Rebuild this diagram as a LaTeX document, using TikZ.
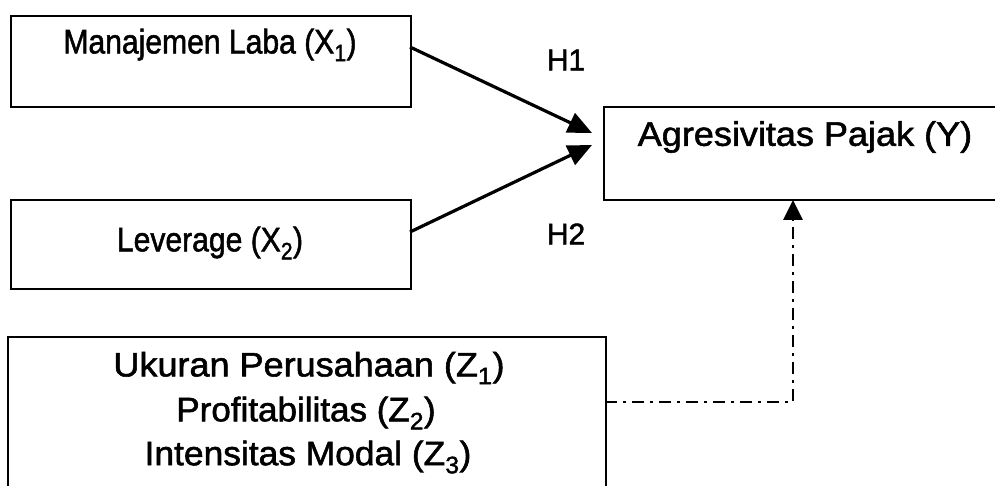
\documentclass[tikz,border=0pt]{standalone}
\usepackage{fontspec}
\setmainfont{Liberation Sans}
\newfontfamily\thickfont{Liberation Sans}[FakeBold=1.6]
\usetikzlibrary{arrows.meta}
\begin{document}
\begin{tikzpicture}[x=1pt,y=-1pt,
  box/.style={draw=black, line width=2pt, rectangle, inner sep=0pt, anchor=north west},
  lbl/.style={inner sep=0pt, font=\thickfont\fontsize{34}{40}\selectfont},
  hyp/.style={inner sep=0pt, font=\thickfont\fontsize{30}{34}\selectfont},
  arr/.style={line width=3.2pt, -{Triangle[length=24pt,width=21pt]}},
  dd/.style={line width=2.8pt, dash pattern=on 12pt off 6pt on 3pt off 6pt, -{Triangle[length=20pt,width=19pt]}}
]
\useasboundingbox (0,0) rectangle (995,486);
\node[box, minimum width=400pt, minimum height=91pt] (b1) at (10,15) {};
\node[box, minimum width=400pt, minimum height=89pt] (b2) at (10,199) {};
\node[box, minimum width=400pt, minimum height=93pt] (by) at (603,106) {};
\node[box, minimum width=598pt, minimum height=170pt] (bz) at (7,336) {};

\node[lbl] (t1) at (210,45) {\scalebox{0.885}[1]{Manajemen Laba (X\textsubscript{1})}};
\node[lbl] (t2) at (210,243) {\scalebox{0.885}[1]{Leverage (X\textsubscript{2})}};
\node[lbl] (ty) at (805,137) {\scalebox{1.06}[1]{Agresivitas Pajak (Y)}};
\node[lbl] (z1) at (309,368) {\scalebox{1.06}[1]{Ukuran Perusahaan (Z\textsubscript{1})}};
\node[lbl] (z2) at (306,413) {\scalebox{1.03}[1]{Profitabilitas (Z\textsubscript{2})}};
\node[lbl] (z3) at (308,457) {\scalebox{1.04}[1]{Intensitas Modal (Z\textsubscript{3})}};

\node[hyp] (h1) at (566,60) {H1};
\node[hyp] (h2) at (566,234) {H2};

\coordinate (s1) at (410,47);
\coordinate (s2) at (410,232);
\coordinate (e1) at (592,133);
\coordinate (e2) at (592,145);
\draw[arr] (s1) -- (e1);
\draw[arr] (s2) -- (e2);

\coordinate (zs) at (605,402);
\coordinate (corner) at (793,402);
\coordinate (ye) at (793,200);
\draw[dd] (zs) -- (corner) -- (ye);
\end{tikzpicture}
\end{document}
